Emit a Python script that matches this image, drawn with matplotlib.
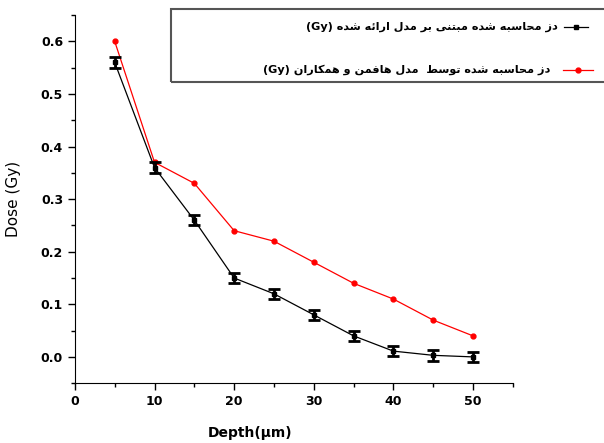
import matplotlib.pyplot as plt
from matplotlib.patches import Rectangle

depth = [5, 10, 15, 20, 25, 30, 35, 40, 45, 50]
dose_model = [0.56, 0.36, 0.26, 0.15, 0.12, 0.08, 0.04, 0.011, 0.003, 0.0]
dose_err = [0.01] * 10
dose_hoffman = [0.60, 0.37, 0.33, 0.24, 0.22, 0.18, 0.14, 0.11, 0.07, 0.04]

label_model = "دز محاسبه شده مبتنی بر مدل ارائه شده"
label_hoffman = "دز محاسبه شده توسط  مدل هافمن و همکاران"

# matplotlib has no arabic shaping, so map letters to presentation forms
# (isolated, final, initial, medial); None = does not join the next letter
forms = {
    'ا': ('\uFE8D', '\uFE8E', None, None),
    'ب': ('\uFE8F', '\uFE90', '\uFE91', '\uFE92'),
    'ت': ('\uFE95', '\uFE96', '\uFE97', '\uFE98'),
    'ح': ('\uFEA1', '\uFEA2', '\uFEA3', '\uFEA4'),
    'د': ('\uFEA9', '\uFEAA', None, None),
    'ر': ('\uFEAD', '\uFEAE', None, None),
    'ز': ('\uFEAF', '\uFEB0', None, None),
    'س': ('\uFEB1', '\uFEB2', '\uFEB3', '\uFEB4'),
    'ش': ('\uFEB5', '\uFEB6', '\uFEB7', '\uFEB8'),
    'ط': ('\uFEC1', '\uFEC2', '\uFEC3', '\uFEC4'),
    'ف': ('\uFED1', '\uFED2', '\uFED3', '\uFED4'),
    'ک': ('\uFB8E', '\uFB8F', '\uFB90', '\uFB91'),
    'ل': ('\uFEDD', '\uFEDE', '\uFEDF', '\uFEE0'),
    'م': ('\uFEE1', '\uFEE2', '\uFEE3', '\uFEE4'),
    'ن': ('\uFEE5', '\uFEE6', '\uFEE7', '\uFEE8'),
    'ه': ('\uFEE9', '\uFEEA', '\uFEEB', '\uFEEC'),
    'و': ('\uFEED', '\uFEEE', None, None),
    'ی': ('\uFBFC', '\uFBFD', '\uFBFE', '\uFBFF'),
    'ئ': ('\uFE89', '\uFE8A', '\uFE8B', '\uFE8C'),
}


def shape(s):
    out = []
    for i, c in enumerate(s):
        if c not in forms:
            out.append(c)
            continue
        prev = s[i - 1] if i > 0 else ''
        nxt = s[i + 1] if i + 1 < len(s) else ''
        join_prev = prev in forms and forms[prev][2] is not None
        join_next = nxt in forms and forms[c][2] is not None
        f = forms[c]
        if join_prev and join_next:
            out.append(f[3])
        elif join_prev:
            out.append(f[1])
        elif join_next:
            out.append(f[2])
        else:
            out.append(f[0])
    return ''.join(reversed(out))


fig = plt.figure(figsize=(6.04, 4.43), dpi=100)
ax = fig.add_axes([0.124, 0.135, 0.725, 0.831])

ax.plot(depth, dose_hoffman, color='red', lw=0.9, marker='o', ms=3.5)
ax.plot(depth, dose_model, color='black', lw=0.9, marker='s', ms=3)
ax.errorbar(depth, dose_model, yerr=dose_err, fmt='none', ecolor='black',
            elinewidth=2, capsize=4.5, capthick=2)

ax.set_xlim(0, 55)
ax.set_ylim(-0.05, 0.65)
ax.set_xticks([0, 10, 20, 30, 40, 50])
ax.set_xticks([5, 15, 25, 35, 45, 55], minor=True)
ax.set_yticks([0.0, 0.1, 0.2, 0.3, 0.4, 0.5, 0.6])
ax.set_yticks([-0.05, 0.05, 0.15, 0.25, 0.35, 0.45, 0.55, 0.65], minor=True)
ax.set_yticklabels(['0.0', '0.1', '0.2', '0.3', '0.4', '0.5', '0.6'])
ax.spines['top'].set_visible(False)
ax.spines['right'].set_visible(False)
ax.tick_params(which='both', direction='out', width=1)
ax.tick_params(which='major', length=5, labelsize=9)
ax.tick_params(which='minor', length=3)
for lab in ax.get_xticklabels() + ax.get_yticklabels():
    lab.set_fontweight('bold')

ax.set_ylabel('Dose (Gy)', fontsize=11, labelpad=14)
ax.set_xlabel('Depth(μm)', fontsize=10, fontweight='bold')
ax.xaxis.set_label_coords(0.40, -0.115)

# legend drawn by hand, right-to-left
fig.patches.append(Rectangle((171 / 604, 1 - 82 / 443), 0.75, 73 / 443,
                             transform=fig.transFigure, fill=False,
                             edgecolor='#555555', lw=1.5))
fig.text(558 / 604, 1 - 27 / 443, '(Gy) ' + shape(label_model),
         ha='right', va='center', fontsize=8.1, fontweight='bold',
         family='DejaVu Sans')
fig.text(550 / 604, 1 - 70 / 443, '(Gy) ' + shape(label_hoffman),
         ha='right', va='center', fontsize=8.1, fontweight='bold',
         family='DejaVu Sans')
fig.lines.append(plt.Line2D([564 / 604, 588 / 604], [1 - 27 / 443] * 2,
                            transform=fig.transFigure, color='black',
                            lw=0.9))
fig.lines.append(plt.Line2D([576 / 604], [1 - 27 / 443],
                            transform=fig.transFigure, color='black',
                            marker='s', ms=3))
fig.lines.append(plt.Line2D([563 / 604, 593 / 604], [1 - 70 / 443] * 2,
                            transform=fig.transFigure, color='red',
                            lw=0.9))
fig.lines.append(plt.Line2D([578 / 604], [1 - 70 / 443],
                            transform=fig.transFigure, color='red',
                            marker='o', ms=3.5))

fig.savefig('out.png', dpi=100)
